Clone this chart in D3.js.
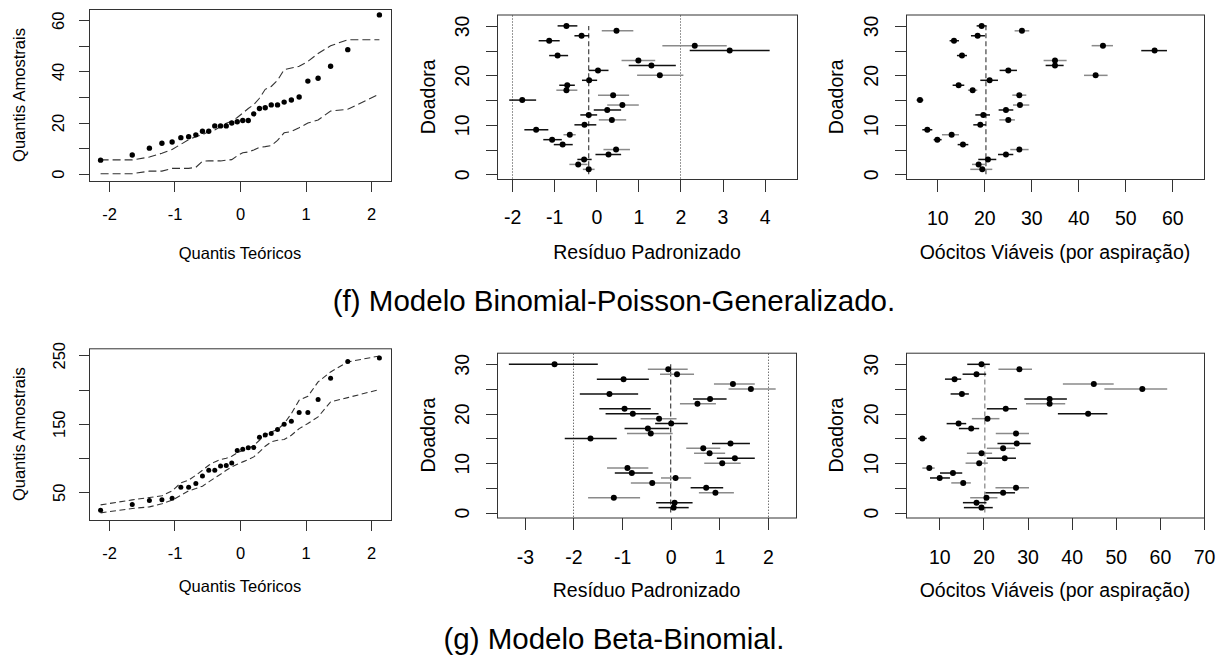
<!DOCTYPE html>
<html>
<head>
<meta charset="utf-8">
<script src="https://cdn.jsdelivr.net/npm/d3@7"></script>
<style>
  html, body { margin: 0; padding: 0; background: #fff; }
  svg { display: block; }
</style>
</head>
<body>
<svg id="chart" width="1226" height="657"></svg>
<script>
// ---------- data ----------
const donors = [1,2,3,4,5,6,7,8,9,10,11,12,13,14,15,16,17,18,19,20,21,22,23,24,25,26,27,28,29,30];

// theoretical normal quantiles for n = 30
const qqTheoretical = [-2.128, -1.645, -1.383, -1.192, -1.036, -0.903, -0.784, -0.674, -0.573, -0.477,
  -0.385, -0.297, -0.210, -0.126, -0.042, 0.042, 0.126, 0.210, 0.297, 0.385,
  0.477, 0.573, 0.674, 0.784, 0.903, 1.036, 1.192, 1.383, 1.645, 2.128];

// (f) Binomial-Poisson-Generalizado
const bpgQQSample = [5.3, 7.3, 10.0, 11.9, 12.4, 14.1, 14.5, 15.2, 16.6, 16.6, 18.7, 18.7, 18.7, 19.8, 20.3,
  20.8, 20.8, 23.4, 25.5, 25.8, 26.9, 26.9, 28.0, 28.8, 30.0, 36.2, 37.3, 42.0, 48.5, 62.1];
const bpgQQUpper = [5.4, 5.4, 6.5, 8.0, 9.5, 11.5, 13.3, 14.5, 15.2, 16.5, 17.1, 18.4, 19.7, 20.5, 22.0,
  23.7, 25.5, 27.0, 29.5, 33.0, 34.1, 36.5, 40.7, 41.3, 42.0, 43.9, 47.0, 50.0, 52.4, 52.4];
const bpgQQLower = [0, 0, 1.0, 1.0, 2.1, 2.1, 2.1, 2.5, 4.9, 5.0, 5.0, 5.0, 5.3, 5.5, 7.0,
  8.2, 8.5, 9.3, 10.3, 10.6, 11.0, 13.0, 16.0, 16.5, 18.0, 19.8, 21.0, 24.5, 25.2, 31.2];

const bpgResid    = [-0.18, -0.43, -0.29, 0.29, 0.47, -0.80, -1.05, -0.63, -1.43, -0.28, 0.37, -0.18, 0.26, 0.62, -1.76,
  0.40, -0.71, -0.69, -0.17, 1.51, 0.04, 1.31, 1.00, -0.92, 3.17, 2.34, -1.12, -0.35, 0.48, -0.71];
const bpgResidLo  = [-0.32, -0.64, -0.45, -0.02, 0.17, -1.01, -1.26, -0.78, -1.71, -0.52, 0.06, -0.38, -0.06, 0.26, -2.07,
  0.04, -0.95, -0.88, -0.34, 0.97, -0.18, 0.77, 0.60, -1.12, 2.22, 1.57, -1.37, -0.52, 0.13, -0.92];
const bpgResidHi  = [-0.04, -0.21, -0.11, 0.59, 0.80, -0.56, -0.82, -0.49, -1.14, 0.00, 0.71, 0.02, 0.59, 1.01, -1.43,
  0.78, -0.45, -0.51, 0.02, 2.07, 0.29, 1.89, 1.40, -0.67, 4.12, 3.10, -0.87, -0.17, 0.88, -0.45];
const bpgResidRef = -0.18;

const bpgOoc   = [19.57, 18.79, 20.78, 24.61, 27.45, 15.46, 10.00, 13.05, 7.87, 19.15, 25.11, 19.79, 24.61, 27.59, 6.31,
  27.45, 17.52, 14.54, 21.13, 43.69, 25.11, 35.04, 35.04, 15.25, 56.24, 45.25, 13.55, 18.58, 28.01, 19.43];
const bpgOocLo = [17.02, 17.38, 18.72, 22.91, 25.53, 14.33, 9.22, 10.99, 6.81, 17.66, 23.19, 18.09, 23.05, 26.10, 5.60,
  25.96, 16.52, 13.26, 19.15, 41.21, 23.26, 33.05, 32.62, 14.18, 53.40, 42.84, 12.62, 17.16, 26.45, 18.37];
const bpgOocHi = [21.70, 20.14, 22.55, 26.17, 29.43, 16.60, 10.92, 14.61, 8.94, 20.35, 26.52, 21.21, 26.17, 29.57, 7.02,
  28.94, 18.51, 15.74, 22.91, 46.24, 26.95, 36.88, 37.52, 16.31, 58.87, 47.38, 14.61, 20.14, 29.57, 20.50];
const bpgOocRef = 20.35;

// interval group per donor (A / B)
const bpgGroup = ["B","B","A","A","B","A","A","B","A","A","B","A","A","B","A",
  "B","B","A","A","B","A","A","B","A","A","B","A","A","B","A"];

// (g) Beta-Binomial
const bbQQSample = [23.7, 32.0, 37.8, 38.8, 41.2, 57.3, 57.3, 62.6, 73.8, 82.1, 82.1, 88.4, 88.9, 92.8, 110.8,
  112.8, 114.8, 115.2, 130.3, 133.7, 135.6, 141.5, 149.3, 153.6, 166.3, 166.3, 185.3, 216.4, 240.8, 246.1];
const bbQQUpper = [31.5, 38.8, 42.2, 44.7, 52.0, 63.6, 67.5, 74.8, 82.1, 89.4, 94.3, 97.7, 99.6, 102.6, 107.4,
  111.3, 114.2, 118.1, 125.9, 133.2, 138.1, 141.5, 150.3, 164.8, 184.3, 190.1, 211.1, 225.7, 240.3, 249.0];
const bbQQLower = [19.8, 26.2, 28.6, 33.0, 38.3, 45.6, 52.0, 55.3, 58.8, 65.1, 70.9, 76.3, 82.1, 87.0, 90.9,
  94.3, 97.7, 101.6, 108.9, 117.2, 123.5, 125.9, 126.9, 133.2, 142.9, 150.3, 160.0, 181.9, 188.2, 199.9];

const bbResid   = [0.06, 0.08, -1.17, 0.92, 0.73, -0.38, 0.10, -0.80, -0.89, 1.06, 1.32, 0.80, 0.67, 1.23, -1.65,
  -0.41, -0.47, 0.01, -0.24, -0.78, -0.95, 0.55, 0.81, -1.26, 1.65, 1.28, -0.97, 0.13, -0.05, -2.39];
const bbResidLo = [-0.25, -0.30, -1.70, 0.58, 0.41, -0.82, -0.20, -1.15, -1.31, 0.69, 0.95, 0.48, 0.32, 0.85, -2.18,
  -0.90, -0.95, -0.32, -0.62, -1.34, -1.47, 0.19, 0.46, -1.87, 1.19, 0.89, -1.52, -0.22, -0.47, -3.33];
const bbResidHi = [0.37, 0.45, -0.63, 1.30, 1.08, 0.02, 0.42, -0.37, -0.46, 1.44, 1.73, 1.12, 1.02, 1.63, -1.11,
  0.04, -0.03, 0.35, 0.12, -0.25, -0.41, 0.93, 1.15, -0.67, 2.16, 1.73, -0.45, 0.48, 0.35, -1.50];
const bbResidRef = 0;
const bbResidGroup = ["A","A","B","B","A","B","B","A","B","B","A","B","B","A","A",
  "B","A","A","B","A","A","B","A","A","B","B","A","B","B","A"];

const bbOoc   = [19.56, 18.43, 20.69, 24.46, 27.39, 15.42, 10.08, 13.09, 7.74, 19.04, 24.83, 19.56, 24.46, 27.55, 6.16,
  27.39, 17.23, 14.37, 20.92, 43.73, 25.06, 35.00, 35.00, 15.12, 56.02, 45.02, 13.46, 18.43, 28.15, 19.56];
const bbOocLo = [15.57, 15.35, 17.00, 20.47, 22.73, 12.71, 7.89, 10.15, 6.16, 15.95, 20.77, 16.25, 20.77, 23.18, 5.18,
  22.80, 14.44, 11.66, 17.38, 36.88, 20.77, 29.65, 29.28, 12.56, 47.42, 38.01, 11.28, 15.27, 23.40, 16.33];
const bbOocHi = [22.12, 20.69, 23.18, 27.17, 30.33, 17.15, 12.41, 15.20, 8.95, 20.99, 27.39, 21.97, 27.17, 30.71, 7.14,
  30.33, 19.04, 16.10, 23.63, 48.10, 27.62, 38.54, 38.92, 16.70, 61.66, 49.53, 14.97, 20.62, 31.01, 21.45];
const bbOocRef = 20.32;
const bbOocGroup = ["A","A","B","A","B","B","A","A","B","B","A","B","B","A","A",
  "B","A","A","B","A","A","B","A","A","B","B","A","A","B","A"];

// axis ticks and labels
const qqXTicks = [-2, -1, 0, 1, 2];
const bpgQQYTicks = [0, 10, 20, 30, 40, 50, 60];
const bpgQQYLabels = [0, 20, 40, 60];
const bbQQYTicks = [50, 100, 150, 200, 250];
const bbQQYLabels = [50, 150, 250];
const donorTicks = [0, 5, 10, 15, 20, 25, 30];
const donorLabels = [0, 10, 20, 30];
const bpgResidTicks = [-2, -1, 0, 1, 2, 3, 4];
const bbResidTicks = [-3, -2, -1, 0, 1, 2];
const bpgOocTicks = [10, 20, 30, 40, 50, 60];
const bbOocTicks = [10, 20, 30, 40, 50, 60, 70];
const residLimits = [-2, 2];

const captions = ["(f) Modelo Binomial-Poisson-Generalizado.", "(g) Modelo Beta-Binomial."];
const qqXTitle = "Quantis Teóricos", qqYTitle = "Quantis Amostrais";
const residXTitle = "Resíduo Padronizado", oocXTitle = "Oócitos Viáveis (por aspiração)", donorTitle = "Doadora";

// ---------- drawing ----------
const FONT = "'Liberation Sans', Arial, Helvetica, sans-serif";
const svg = d3.select("#chart");
svg.append("rect").attr("width", 1226).attr("height", 657).attr("fill", "#fff");

const groupColor = d3.scaleOrdinal().domain(["A", "B"]).range(["#111111", "#8a8a8a"]);

// box, axes and titles for a panel
function frame(p) {
  const g = svg.append("g");
  const x = d3.scaleLinear().domain(p.xDomain).range([p.left, p.right]);
  const y = d3.scaleLinear().domain(p.yDomain).range([p.bottom, p.top]);
  const fmt = labels => d => (labels.includes(d) ? String(d) : "");

  const xa = g.append("g").attr("transform", `translate(0,${p.bottom + 0.5})`)
    .call(d3.axisBottom(x).tickValues(p.xTicks).tickSize(p.tick).tickSizeOuter(0).tickFormat(d => String(d)));
  xa.select(".domain").remove();
  xa.selectAll("line").attr("stroke", "#333").attr("shape-rendering", "crispEdges");
  xa.selectAll("text").attr("dy", null).attr("y", p.xLabBase - p.bottom)
    .attr("font-family", FONT).attr("font-size", p.fs).attr("fill", "#000");

  const ya = g.append("g").attr("transform", `translate(${p.left + 0.5},0)`)
    .call(d3.axisLeft(y).tickValues(p.yTicks).tickSize(p.tick).tickSizeOuter(0).tickFormat(fmt(p.yLabels)));
  ya.select(".domain").remove();
  ya.selectAll("line").attr("stroke", "#333").attr("shape-rendering", "crispEdges");
  ya.selectAll("text").attr("dy", null).attr("x", null).attr("text-anchor", "middle")
    .attr("transform", `translate(${p.yLabBase - p.left},0) rotate(-90)`)
    .attr("font-family", FONT).attr("font-size", p.fs).attr("fill", "#000");

  g.append("rect").attr("x", p.left + 0.5).attr("y", p.top + 0.5)
    .attr("width", p.right - p.left).attr("height", p.bottom - p.top)
    .attr("fill", "none").attr("stroke", "#333").attr("stroke-width", 1);

  g.append("text").attr("x", (p.left + p.right) / 2).attr("y", p.xTitleBase)
    .attr("text-anchor", "middle").attr("font-family", FONT).attr("font-size", p.fs)
    .text(p.xTitle);
  g.append("text").attr("transform", `translate(${p.yTitleBase},${(p.top + p.bottom) / 2}) rotate(-90)`)
    .attr("text-anchor", "middle").attr("font-family", FONT).attr("font-size", p.fs)
    .text(p.yTitle);
  return { g, x, y };
}

function qqPanel(p, sample, upper, lower) {
  const { g, x, y } = frame(p);
  const line = d3.line().x(d => x(d[0])).y(d => y(d[1]));
  [upper, lower].forEach(band => {
    g.append("path").datum(qqTheoretical.map((q, i) => [q, band[i]]))
      .attr("d", line).attr("fill", "none").attr("stroke", "#333")
      .attr("stroke-width", 1.1).attr("stroke-dasharray", p.dash);
  });
  g.selectAll("circle.pt").data(qqTheoretical).join("circle")
    .attr("cx", d => x(d)).attr("cy", (d, i) => y(sample[i])).attr("r", p.r).attr("fill", "#000");
}

function intervalPanel(p, est, lo, hi, group, ref, limits, refColor) {
  const { g, x, y } = frame(p);
  if (limits) {
    g.selectAll("line.lim").data(limits).join("line")
      .attr("x1", d => Math.round(x(d)) + 0.5).attr("x2", d => Math.round(x(d)) + 0.5)
      .attr("y1", p.top + 1).attr("y2", p.bottom)
      .attr("stroke", "#333").attr("stroke-width", 1).attr("stroke-dasharray", "1,2");
  }
  g.append("line").attr("x1", x(ref)).attr("x2", x(ref)).attr("y1", y(0)).attr("y2", y(30))
    .attr("stroke", refColor).attr("stroke-width", 1.1).attr("stroke-dasharray", "5,3");
  g.selectAll("line.ci").data(donors).join("line")
    .attr("x1", (d, i) => x(lo[i])).attr("x2", (d, i) => x(hi[i]))
    .attr("y1", d => y(d)).attr("y2", d => y(d))
    .attr("stroke", (d, i) => groupColor(group[i])).attr("stroke-width", 1.5);
  g.selectAll("circle.pt").data(donors).join("circle")
    .attr("cx", (d, i) => x(est[i])).attr("cy", d => y(d)).attr("r", 3).attr("fill", "#000");
}

// top row (f)
qqPanel({ left: 89, right: 391, top: 9, bottom: 181, xDomain: [-2.305, 2.305], yDomain: [-2.85, 64.4],
  xTicks: qqXTicks, yTicks: bpgQQYTicks, yLabels: bpgQQYLabels, tick: 10.5, fs: 16.5,
  xLabBase: 219, xTitleBase: 259, yLabBase: 63, yTitleBase: 24.5,
  xTitle: qqXTitle, yTitle: qqYTitle, dash: "8,4", r: 2.7 }, bpgQQSample, bpgQQUpper, bpgQQLower);

const rowTop = { top: 14.5, bottom: 179 };
const donorDomTop = [-0.95, 32.3];
intervalPanel({ left: 497, right: 797, ...rowTop, xDomain: [-2.36, 4.77], yDomain: donorDomTop,
  xTicks: bpgResidTicks, yTicks: donorTicks, yLabels: donorLabels, tick: 12, fs: 19.5,
  xLabBase: 223.5, xTitleBase: 258.5, yLabBase: 468, yTitleBase: 435,
  xTitle: residXTitle, yTitle: donorTitle }, bpgResid, bpgResidLo, bpgResidHi, bpgGroup, bpgResidRef, residLimits, "#333");

intervalPanel({ left: 906, right: 1204, ...rowTop, xDomain: [3.34, 66.75], yDomain: donorDomTop,
  xTicks: bpgOocTicks, yTicks: donorTicks, yLabels: donorLabels, tick: 12, fs: 19.5,
  xLabBase: 224, xTitleBase: 258.5, yLabBase: 877, yTitleBase: 843,
  xTitle: oocXTitle, yTitle: donorTitle }, bpgOoc, bpgOocLo, bpgOocHi, bpgGroup, bpgOocRef, null, "#333");

// bottom row (g)
qqPanel({ left: 89, right: 391, top: 348.3, bottom: 520, xDomain: [-2.305, 2.305], yDomain: [9.4, 260.2],
  xTicks: qqXTicks, yTicks: bbQQYTicks, yLabels: bbQQYLabels, tick: 10.5, fs: 16.5,
  xLabBase: 558, xTitleBase: 592, yLabBase: 64, yTitleBase: 24.5,
  xTitle: qqXTitle, yTitle: qqYTitle, dash: "6,3.5", r: 2.5 }, bbQQSample, bbQQUpper, bbQQLower);

const rowBot = { top: 352.7, bottom: 517.5 };
const donorDomBot = [-1.0, 32.35];
intervalPanel({ left: 497, right: 796, ...rowBot, xDomain: [-3.574, 2.578], yDomain: donorDomBot,
  xTicks: bbResidTicks, yTicks: donorTicks, yLabels: donorLabels, tick: 12, fs: 19.5,
  xLabBase: 563, xTitleBase: 597, yLabBase: 468, yTitleBase: 435,
  xTitle: residXTitle, yTitle: donorTitle }, bbResid, bbResidLo, bbResidHi, bbResidGroup, bbResidRef, residLimits, "#333");

intervalPanel({ left: 906, right: 1204, ...rowBot, xDomain: [2.45, 70], yDomain: donorDomBot,
  xTicks: bbOocTicks, yTicks: donorTicks, yLabels: donorLabels, tick: 12, fs: 19.5,
  xLabBase: 563, xTitleBase: 597, yLabBase: 877, yTitleBase: 843,
  xTitle: oocXTitle, yTitle: donorTitle }, bbOoc, bbOocLo, bbOocHi, bbOocGroup, bbOocRef, null, "#777");

// captions
svg.selectAll("text.caption").data(captions).join("text")
  .attr("class", "caption")
  .attr("x", 614).attr("y", (d, i) => [311, 649][i])
  .attr("text-anchor", "middle").attr("font-family", FONT).attr("font-size", 29.5)
  .text(d => d);
</script>
</body>
</html>
